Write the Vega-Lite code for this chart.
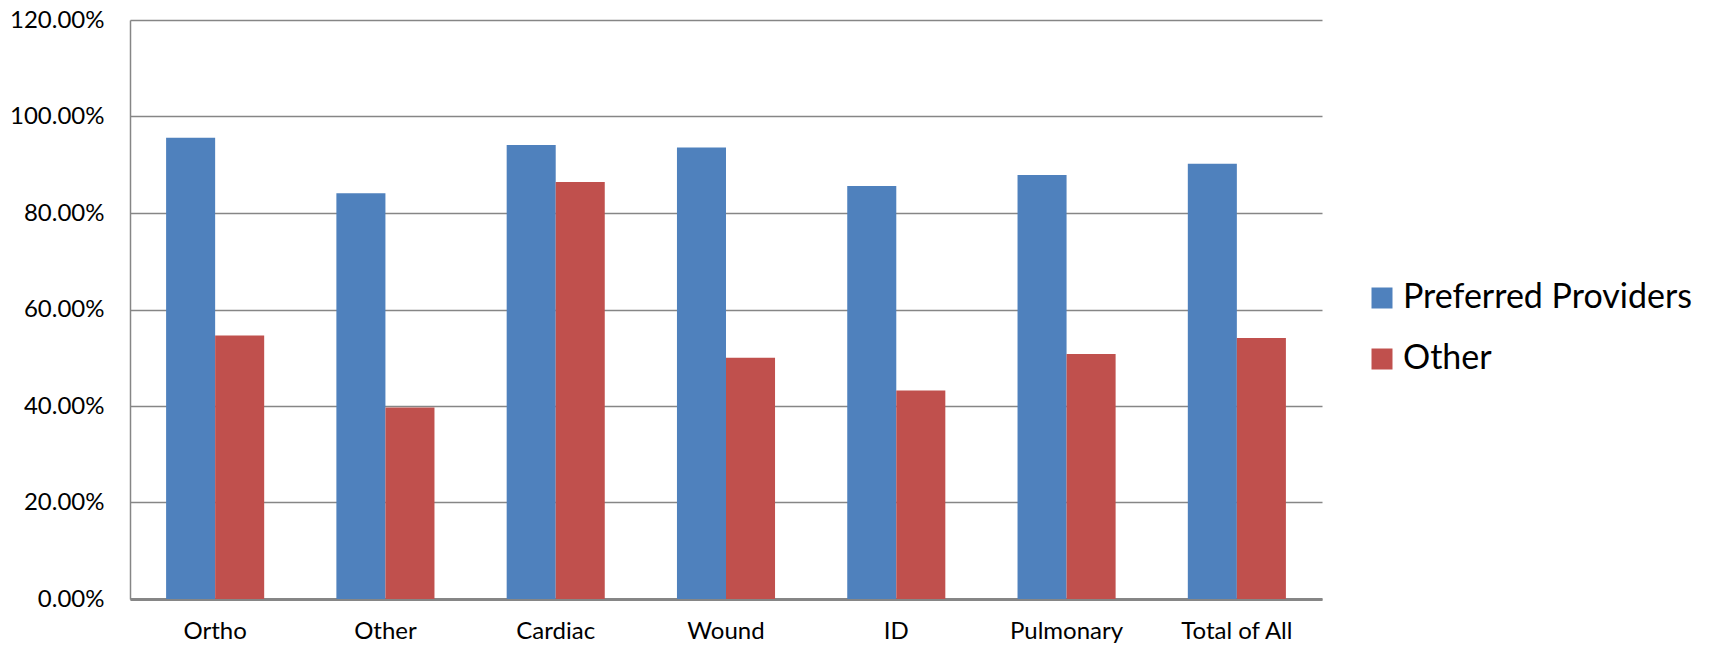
{
  "$schema": "https://vega.github.io/schema/vega-lite/v6.json",
  "width": 1192,
  "height": 579,
  "autosize": "none",
  "padding": {"left": 130, "top": 20, "right": 387, "bottom": 47},
  "background": "white",
  "config": {"view": {"stroke": null}, "font": "Lato"},
  "data": {
    "values": [
      {"category": "Ortho", "series": "Preferred Providers", "value": 0.956},
      {"category": "Ortho", "series": "Other", "value": 0.546},
      {"category": "Other", "series": "Preferred Providers", "value": 0.841},
      {"category": "Other", "series": "Other", "value": 0.397},
      {"category": "Cardiac", "series": "Preferred Providers", "value": 0.941},
      {"category": "Cardiac", "series": "Other", "value": 0.864},
      {"category": "Wound", "series": "Preferred Providers", "value": 0.936},
      {"category": "Wound", "series": "Other", "value": 0.500},
      {"category": "ID", "series": "Preferred Providers", "value": 0.856},
      {"category": "ID", "series": "Other", "value": 0.432},
      {"category": "Pulmonary", "series": "Preferred Providers", "value": 0.879},
      {"category": "Pulmonary", "series": "Other", "value": 0.508},
      {"category": "Total of All", "series": "Preferred Providers", "value": 0.902},
      {"category": "Total of All", "series": "Other", "value": 0.541}
    ]
  },
  "mark": {"type": "bar"},
  "encoding": {
    "x": {
      "field": "category",
      "type": "nominal",
      "sort": ["Ortho", "Other", "Cardiac", "Wound", "ID", "Pulmonary", "Total of All"],
      "scale": {"paddingInner": 0.424, "paddingOuter": 0.212},
      "axis": {
        "title": null,
        "labelAngle": 0,
        "ticks": false,
        "domainColor": "#868686",
        "domainWidth": 3,
        "labelFontSize": 24,
        "labelColor": "#000000",
        "labelPadding": 20,
        "grid": false
      }
    },
    "xOffset": {"field": "series", "type": "nominal", "sort": ["Preferred Providers", "Other"]},
    "y": {
      "field": "value",
      "type": "quantitative",
      "scale": {"domain": [0, 1.2]},
      "axis": {
        "title": null,
        "values": [0, 0.2, 0.4, 0.6, 0.8, 1.0, 1.2],
        "format": ".2%",
        "grid": true,
        "gridColor": "#868686",
        "gridWidth": 1.5,
        "ticks": false,
        "domainColor": "#868686",
        "domainWidth": 1.5,
        "labelFontSize": 24,
        "labelPadding": 26,
        "labelColor": "#000000"
      }
    },
    "color": {
      "field": "series",
      "type": "nominal",
      "sort": ["Preferred Providers", "Other"],
      "scale": {"domain": ["Preferred Providers", "Other"], "range": ["#4F81BD", "#C0504D"]},
      "legend": {
        "title": null,
        "orient": "none",
        "legendX": 1235,
        "legendY": 261,
        "symbolType": "square",
        "symbolSize": 441,
        "symbolStrokeWidth": 0,
        "symbolOpacity": 1,
        "labelFontSize": 34,
        "labelLimit": 0,
        "labelOffset": 4,
        "rowPadding": 27,
        "labelColor": "#000000",
        "padding": 0
      }
    }
  }
}
